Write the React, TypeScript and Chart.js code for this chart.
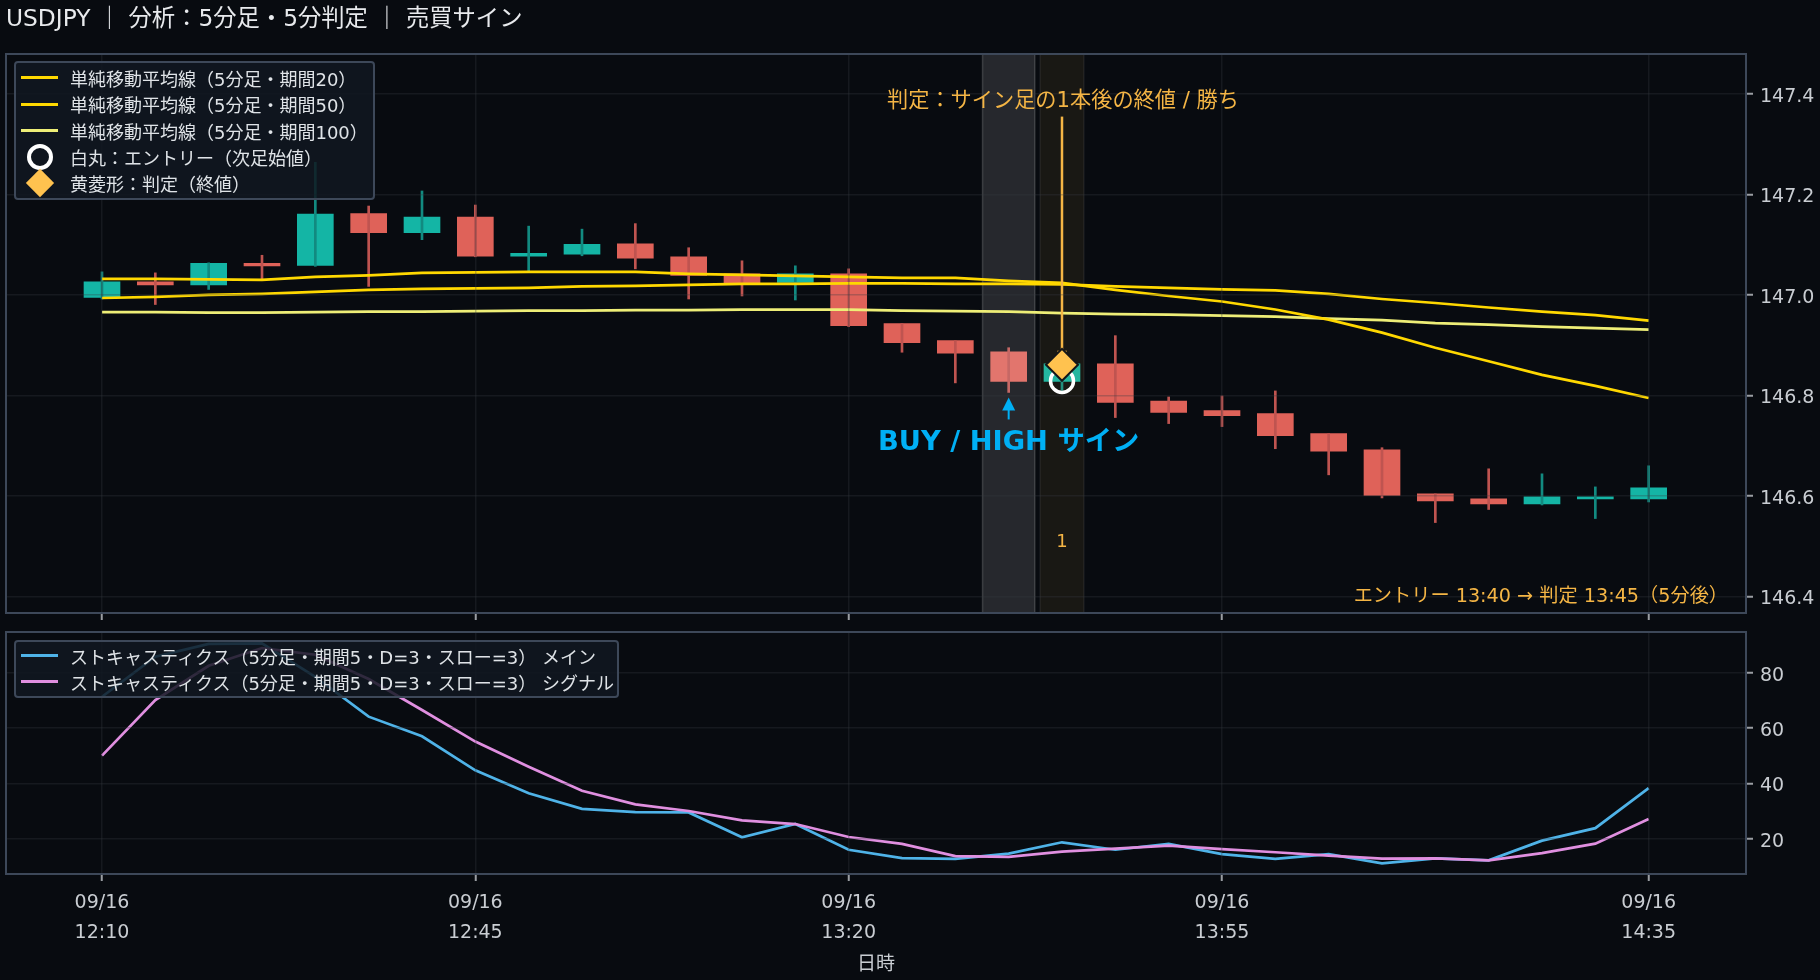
import React, { useEffect, useRef } from 'react';
import { Chart, registerables } from 'chart.js';

Chart.register(...registerables);

const FONT = '"DejaVu Sans", "Noto Sans CJK JP", sans-serif';
const BG = '#080b10';
const FRAME = '#3d4859';
const GRID = 'rgba(55, 61, 66, 0.3)';
const TICK_COLOR = '#9a9ea3';
const LABEL_COLOR = '#c9cdd2';
const ORANGE = '#f4b545';
const BUY_BLUE = '#00b0f5';

const title = 'USDJPY ｜ 分析：5分足・5分判定 ｜ 売買サイン';

const dates = Array(30).fill('09/16');
const times = [
  '12:10', '12:15', '12:20', '12:25', '12:30', '12:35', '12:40', '12:45', '12:50', '12:55',
  '13:00', '13:05', '13:10', '13:15', '13:20', '13:25', '13:30', '13:35', '13:40', '13:45',
  '13:50', '13:55', '14:00', '14:05', '14:10', '14:15', '14:20', '14:25', '14:30', '14:35',
];
const xTickIndexes = [0, 7, 14, 21, 29];
const priceTicks = [146.4, 146.6, 146.8, 147.0, 147.2, 147.4];
const stochTicks = [20, 40, 60, 80];

const opens = [
  146.995, 147.026, 147.02, 147.063, 147.059, 147.162, 147.124, 147.155, 147.077, 147.081,
  147.102, 147.076, 147.042, 147.025, 147.042, 146.943, 146.909, 146.887, 146.828, 146.863,
  146.789, 146.77, 146.764, 146.724, 146.692, 146.604, 146.594, 146.584, 146.594, 146.594,
];
const closes = [
  147.026, 147.02, 147.063, 147.058, 147.161, 147.124, 147.155, 147.077, 147.083, 147.101,
  147.073, 147.039, 147.022, 147.042, 146.939, 146.905, 146.884, 146.828, 146.863, 146.786,
  146.766, 146.76, 146.72, 146.689, 146.601, 146.59, 146.584, 146.598, 146.598, 146.616,
];
const highs = [
  147.046, 147.044, 147.064, 147.079, 147.264, 147.177, 147.207, 147.179, 147.137, 147.131,
  147.142, 147.094, 147.068, 147.058, 147.052, 146.943, 146.909, 146.895, 146.88, 146.919,
  146.797, 146.799, 146.809, 146.724, 146.696, 146.604, 146.654, 146.644, 146.618, 146.66,
];
const lows = [
  146.992, 146.981, 147.011, 147.03, 147.057, 147.017, 147.11, 147.076, 147.047, 147.078,
  147.052, 146.992, 146.998, 146.99, 146.937, 146.886, 146.825, 146.806, 146.81, 146.756,
  146.744, 146.738, 146.694, 146.642, 146.596, 146.547, 146.573, 146.582, 146.555, 146.588,
];

const sma20 = [
  147.032, 147.032, 147.031, 147.03, 147.036, 147.039, 147.044, 147.045, 147.046, 147.046,
  147.046, 147.042, 147.04, 147.038, 147.036, 147.034, 147.034, 147.028, 147.024, 147.01,
  146.998, 146.987, 146.971, 146.951, 146.925, 146.895, 146.868, 146.841, 146.819, 146.795,
];
const sma50 = [
  146.994, 146.996, 147.0, 147.002, 147.006, 147.01, 147.012, 147.013, 147.014, 147.017,
  147.018, 147.02, 147.022, 147.022, 147.023, 147.023, 147.022, 147.022, 147.021, 147.017,
  147.014, 147.011, 147.009, 147.002, 146.992, 146.984, 146.975, 146.967, 146.96, 146.949,
];
const sma100 = [
  146.966, 146.966, 146.965, 146.965, 146.966, 146.967, 146.967, 146.968, 146.969, 146.969,
  146.97, 146.97, 146.971, 146.971, 146.971, 146.969, 146.968, 146.967, 146.964, 146.962,
  146.961, 146.959, 146.957, 146.953, 146.95, 146.944, 146.941, 146.937, 146.934, 146.931,
];

const stochMain = [
  71.3, 85.8, 90.4, 90.6, 78.5, 64.1, 57.0, 44.7, 36.4, 30.8,
  29.6, 29.5, 20.5, 25.3, 16.0, 13.0, 12.7, 14.6, 18.7, 16.0,
  18.1, 14.4, 12.7, 14.4, 11.1, 12.9, 12.2, 19.3, 23.8, 38.3,
];
const stochSignal = [
  50.0, 70.1, 82.5, 88.9, 86.5, 77.7, 66.5, 55.1, 46.0, 37.3,
  32.4, 30.0, 26.6, 25.3, 20.6, 18.1, 13.7, 13.4, 15.3, 16.4,
  17.5, 16.2, 15.1, 13.9, 12.8, 12.9, 12.2, 14.8, 18.2, 27.1,
];

const signalIndex = 17;
const judgeIndex = 18;
const entryPrice = 146.829;
const judgePrice = 146.861;

const mainLegend = [
  { label: '単純移動平均線（5分足・期間20）', kind: 'line', color: '#ffd800' },
  { label: '単純移動平均線（5分足・期間50）', kind: 'line', color: '#ffd800' },
  { label: '単純移動平均線（5分足・期間100）', kind: 'line', color: '#eeee77' },
  { label: '白丸：エントリー（次足始値）', kind: 'circle', color: '#ffffff' },
  { label: '黄菱形：判定（終値）', kind: 'diamond', color: '#ffc24f' },
];
const stochLegend = [
  { label: 'ストキャスティクス（5分足・期間5・D=3・スロー=3） メイン', kind: 'line', color: '#4fb3e8' },
  { label: 'ストキャスティクス（5分足・期間5・D=3・スロー=3） シグナル', kind: 'line', color: '#e08fe0' },
];

const BODY_UP = '#14b5a5';
const BODY_DOWN = '#df6259';
const WICK_UP = '#128a80';
const WICK_DOWN = '#bf5450';

const candleColors = (up: string, down: string) =>
  closes.map((c, i) => (c >= opens[i] ? up : down));

const lineData = (values: number[]) => values.map((y, x) => ({ x, y }));

const fixTicks = (values: number[]) => (scale: any) => {
  scale.ticks = values.map(value => ({ value }));
};

const lineDataset = (label: string, values: number[], color: string, order: number) => ({
  type: 'line' as const,
  label,
  data: lineData(values),
  borderColor: color,
  borderWidth: 2.7,
  pointRadius: 0,
  tension: 0,
  order,
});

const xScale = (showLabels: boolean) => ({
  type: 'linear' as const,
  min: -1.8,
  max: 30.825,
  offset: false,
  afterBuildTicks: fixTicks(xTickIndexes),
  grid: { color: GRID, lineWidth: 1.5, offset: false, z: 1, tickColor: TICK_COLOR, tickLength: 7, tickWidth: 2 },
  border: { display: false },
  ticks: {
    display: showLabels,
    autoSkip: false,
    maxRotation: 0,
    padding: 7,
    color: LABEL_COLOR,
    font: { family: FONT, size: 19, lineHeight: 1.58 },
    callback: (v: any) => [dates[v], times[v]],
  },
  title: {
    display: showLabels,
    text: '日時',
    color: LABEL_COLOR,
    font: { family: FONT, size: 19 },
    padding: { top: 0, bottom: 4 },
  },
  afterFit: (scale: any) => {
    scale.height = showLabels ? 106 : 19;
  },
});

const yScale = (min: number, max: number, values: number[], format: (v: number) => string) => ({
  position: 'right' as const,
  min,
  max,
  afterBuildTicks: fixTicks(values),
  grid: { color: GRID, lineWidth: 1.5, z: 1, tickColor: TICK_COLOR, tickLength: 7, tickWidth: 2 },
  border: { display: false },
  ticks: {
    padding: 7,
    labelOffset: 3,
    color: LABEL_COLOR,
    font: { family: FONT, size: 19 },
    callback: (v: any) => format(Number(v)),
  },
  afterFit: (scale: any) => {
    scale.width = 74;
  },
});

// frame round the plot area
const framePlugin = {
  id: 'frame',
  afterDraw(chart: any) {
    const { ctx, chartArea: a } = chart;
    ctx.save();
    ctx.strokeStyle = FRAME;
    ctx.lineWidth = 2;
    ctx.strokeRect(a.left, a.top, a.right - a.left, a.bottom - a.top);
    ctx.restore();
  },
};

const drawBand = (chart: any, center: number, half: number, fill: string, line: string) => {
  const { ctx, chartArea: a, scales } = chart;
  const x0 = scales.x.getPixelForValue(center - half);
  const x1 = scales.x.getPixelForValue(center + half);
  ctx.save();
  ctx.fillStyle = fill;
  ctx.fillRect(x0, a.top, x1 - x0, a.bottom - a.top);
  ctx.strokeStyle = line;
  ctx.lineWidth = 1.5;
  ctx.strokeRect(x0, a.top, x1 - x0, a.bottom - a.top);
  ctx.restore();
};

const drawText = (ctx: any, text: string, x: number, y: number, font: string, color: string, align = 'center') => {
  ctx.font = font;
  ctx.fillStyle = color;
  ctx.textAlign = align;
  ctx.textBaseline = 'middle';
  ctx.fillText(text, x, y);
};

const annotationPlugin = {
  id: 'annotations',
  afterDatasetDraw(chart: any, args: any) {
    const { ctx, scales } = chart;
    // the bands lie over the candles and under the moving averages
    if (args.index === 1) {
      drawBand(chart, signalIndex, 0.49, 'rgba(255, 255, 255, 0.12)', 'rgba(255, 255, 255, 0.16)');
      drawBand(chart, judgeIndex, 0.41, 'rgba(255, 194, 79, 0.07)', 'rgba(255, 255, 255, 0.07)');
    }
    // arrow from the verdict note down to the diamond, under the markers
    if (args.index === 4) {
      const x = scales.x.getPixelForValue(judgeIndex);
      const yTop = scales.y.getPixelForValue(147.355);
      const yEnd = scales.y.getPixelForValue(146.885);
      ctx.save();
      ctx.strokeStyle = ORANGE;
      ctx.lineWidth = 2.5;
      ctx.beginPath();
      ctx.moveTo(x, yTop);
      ctx.lineTo(x, yEnd);
      ctx.stroke();
      ctx.fillStyle = ORANGE;
      ctx.beginPath();
      ctx.moveTo(x - 5, yEnd - 2);
      ctx.lineTo(x + 5, yEnd - 2);
      ctx.lineTo(x, yEnd + 6);
      ctx.closePath();
      ctx.fill();
      ctx.restore();
    }
  },
  afterDraw(chart: any) {
    const { ctx, chartArea: a, scales } = chart;
    const sx = scales.x.getPixelForValue(signalIndex);
    const jx = scales.x.getPixelForValue(judgeIndex);
    const py = (v: number) => scales.y.getPixelForValue(v);
    ctx.save();
    drawText(ctx, title, 6, 20, `23.3px ${FONT}`, '#e8eaed', 'left');

    // BUY arrow under the signal candle
    const tip = py(146.796);
    ctx.fillStyle = BUY_BLUE;
    ctx.strokeStyle = BUY_BLUE;
    ctx.lineWidth = 2;
    ctx.beginPath();
    ctx.moveTo(sx, tip + 10);
    ctx.lineTo(sx, tip + 22);
    ctx.stroke();
    ctx.beginPath();
    ctx.moveTo(sx, tip);
    ctx.lineTo(sx + 6.5, tip + 13);
    ctx.lineTo(sx - 6.5, tip + 13);
    ctx.closePath();
    ctx.fill();

    drawText(ctx, 'BUY / HIGH サイン', sx, py(146.706), `bold 27.3px ${FONT}`, BUY_BLUE);
    drawText(ctx, '判定：サイン足の1本後の終値 / 勝ち', jx + 1, py(147.386), `21.2px ${FONT}`, ORANGE);
    drawText(ctx, '1', jx, py(146.507), `18px ${FONT}`, ORANGE);
    drawText(ctx, 'エントリー 13:40 → 判定 13:45（5分後）', a.right - 18, py(146.398), `19.2px ${FONT}`, ORANGE, 'right');
    ctx.restore();
  },
};

const PriceChart: React.FC = () => {
  const ref = useRef<HTMLCanvasElement>(null);

  useEffect(() => {
    if (!ref.current) return;
    const chart = new Chart(ref.current, {
      type: 'bar',
      data: {
        datasets: [
          {
            label: '実体',
            data: opens.map((o, x) => ({ x, y: [o, closes[x]] })),
            backgroundColor: candleColors(BODY_UP, BODY_DOWN),
            barThickness: 36,
            grouped: false,
            order: 6,
          },
          {
            label: 'ヒゲ',
            data: lows.map((l, x) => ({ x, y: [l, highs[x]] })),
            backgroundColor: candleColors(WICK_UP, WICK_DOWN),
            barThickness: 2,
            grouped: false,
            order: 5,
          },
          lineDataset(mainLegend[2].label, sma100, '#eeee77', 4),
          lineDataset(mainLegend[1].label, sma50, '#ffd800', 3),
          lineDataset(mainLegend[0].label, sma20, '#ffd800', 2),
          {
            type: 'line',
            label: mainLegend[3].label,
            data: [{ x: judgeIndex, y: entryPrice }],
            showLine: false,
            pointStyle: 'circle',
            pointRadius: 11.5,
            pointBackgroundColor: 'rgba(0, 0, 0, 0)',
            pointBorderColor: '#ffffff',
            pointBorderWidth: 3.5,
            order: 1,
          },
          {
            type: 'line',
            label: mainLegend[4].label,
            data: [{ x: judgeIndex, y: judgePrice }],
            showLine: false,
            pointStyle: 'rectRot',
            pointRadius: 16,
            pointBackgroundColor: '#ffc24f',
            pointBorderColor: '#14161a',
            pointBorderWidth: 2,
            order: 0,
          },
        ],
      } as any,
      options: {
        responsive: false,
        animation: false,
        layout: { autoPadding: false, padding: { top: 54, left: 6, right: 0, bottom: 0 } },
        plugins: { legend: { display: false }, tooltip: { enabled: false } },
        scales: {
          x: xScale(false),
          y: yScale(146.367, 147.4796, priceTicks, v => v.toFixed(1)),
        },
      } as any,
      plugins: [annotationPlugin, framePlugin],
    });
    return () => chart.destroy();
  }, []);

  return <canvas ref={ref} width={1820} height={632} style={{ position: 'absolute', left: 0, top: 0 }} />;
};

const StochChart: React.FC = () => {
  const ref = useRef<HTMLCanvasElement>(null);

  useEffect(() => {
    if (!ref.current) return;
    const chart = new Chart(ref.current, {
      type: 'line',
      data: {
        datasets: [
          lineDataset(stochLegend[0].label, stochMain, '#4fb3e8', 2),
          lineDataset(stochLegend[1].label, stochSignal, '#e08fe0', 1),
        ],
      },
      options: {
        responsive: false,
        animation: false,
        layout: { autoPadding: false, padding: { top: 32, left: 6, right: 0, bottom: 0 } },
        plugins: { legend: { display: false }, tooltip: { enabled: false } },
        scales: {
          x: xScale(true),
          y: yScale(7.24, 94.7, stochTicks, v => String(v)),
        },
      } as any,
      plugins: [framePlugin],
    });
    return () => chart.destroy();
  }, []);

  return <canvas ref={ref} width={1820} height={380} style={{ position: 'absolute', left: 0, top: 600 }} />;
};

const Swatch: React.FC<{ kind: string; color: string }> = ({ kind, color }) => {
  if (kind === 'line') {
    return <div style={{ width: 37, height: 3, background: color }} />;
  }
  if (kind === 'circle') {
    return (
      <div style={{ width: 26, height: 26, boxSizing: 'border-box', borderRadius: '50%', border: `4px solid ${color}` }} />
    );
  }
  return <div style={{ width: 20, height: 20, background: color, transform: 'rotate(45deg)' }} />;
};

const LegendBox: React.FC<{
  entries: { label: string; kind: string; color: string }[];
  left: number;
  top: number;
  width: number;
  rowHeight: number;
  pad: number;
}> = ({ entries, left, top, width, rowHeight, pad }) => (
  <div
    style={{
      position: 'absolute',
      left,
      top,
      width,
      boxSizing: 'border-box',
      padding: `${pad}px 0`,
      background: 'rgba(17, 24, 33, 0.85)',
      border: `2px solid ${FRAME}`,
      borderRadius: 4,
      font: `18px ${FONT}`,
      color: '#dfe3e7',
      whiteSpace: 'pre',
    }}
  >
    {entries.map(entry => (
      <div key={entry.label} style={{ display: 'flex', alignItems: 'center', height: rowHeight }}>
        <div style={{ width: 37, marginLeft: 5, marginRight: 12, display: 'flex', justifyContent: 'center' }}>
          <Swatch kind={entry.kind} color={entry.color} />
        </div>
        <span>{entry.label}</span>
      </div>
    ))}
  </div>
);

const App: React.FC = () => (
  <div style={{ position: 'fixed', left: 0, top: 0, width: 1820, height: 980, background: BG, overflow: 'hidden' }}>
    <PriceChart />
    <StochChart />
    <LegendBox entries={mainLegend} left={14} top={61} width={361} rowHeight={26.4} pad={1.7} />
    <LegendBox entries={stochLegend} left={14} top={639.5} width={605} rowHeight={26} pad={1} />
  </div>
);

export default App;
